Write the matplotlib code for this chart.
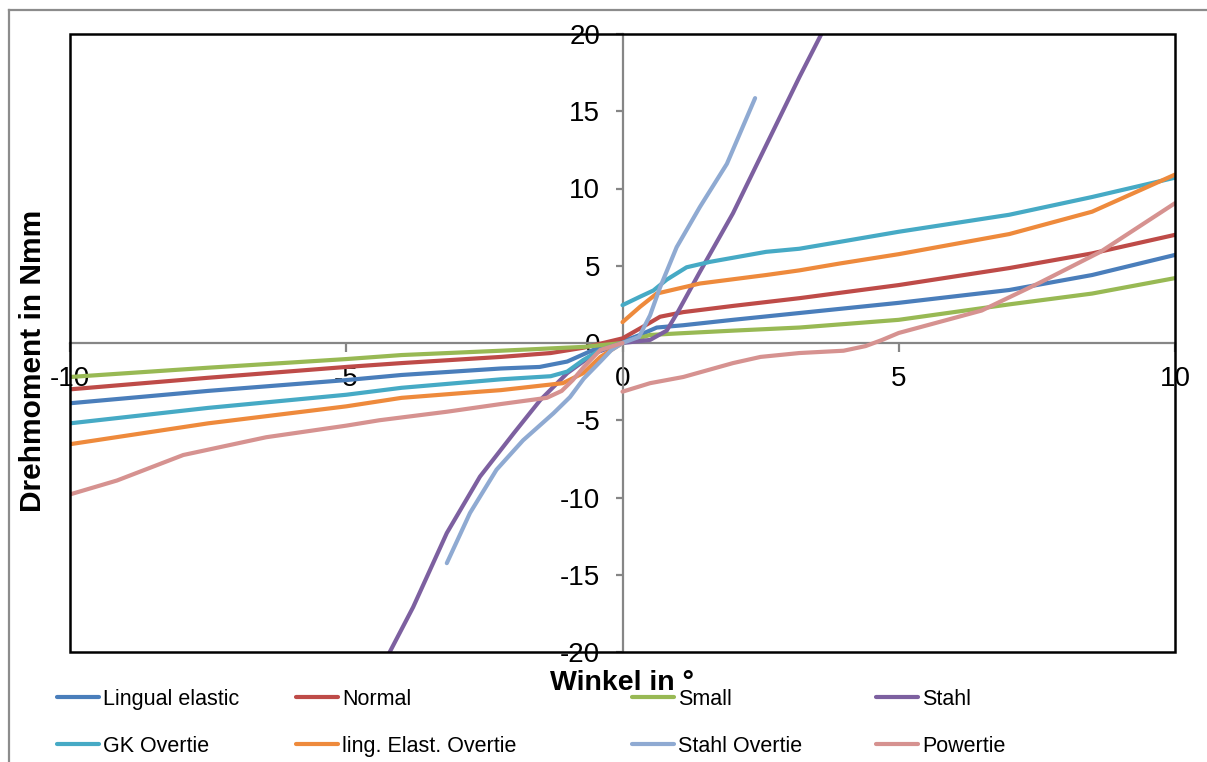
import numpy as np
import matplotlib
matplotlib.use("Agg")
import matplotlib.pyplot as plt
from matplotlib.patches import Rectangle
from matplotlib.lines import Line2D

plt.rcParams['font.family'] = ['Liberation Sans', 'DejaVu Sans']
plt.rcParams['axes.unicode_minus'] = False

nan = np.nan

# torque curves, angle in degrees -> torque in Nmm
lingual_x = [-10, -7.5, -5, -4, -2.2, -1.5, -1.0, -0.53, 0, 0.3, 0.62, 1.1, 2.0, 3.2, 5, 7, 8.5, 10]
lingual_y = [-3.9, -3.1, -2.4, -2.07, -1.65, -1.55, -1.2, -0.45, 0.1, 0.5, 1.0, 1.15, 1.5, 1.94, 2.6, 3.43, 4.4, 5.7]

normal_x = [-10, -7.5, -5, -4, -2.2, -1.3, -0.7, 0, 0.37, 0.68, 1.1, 2.0, 3.2, 3.94, 5, 7, 8.5, 10]
normal_y = [-3.0, -2.25, -1.55, -1.3, -0.9, -0.65, -0.3, 0.3, 1.05, 1.7, 2.0, 2.4, 2.9, 3.25, 3.75, 4.85, 5.8, 7.0]

small_x = [-10, -7.5, -5, -4, -2.2, -0.7, 0, 0.5, 1.0, 2.0, 3.2, 5, 7, 8.5, 10]
small_y = [-2.2, -1.6, -1.04, -0.78, -0.5, -0.25, 0, 0.52, 0.62, 0.8, 1.0, 1.5, 2.5, 3.2, 4.2]

stahl_x = [-4.3, -3.79, -3.18, -2.58, -1.97, -1.49, -1.0, -0.5, 0, 0.5, 0.8, 1.0, 1.4, 2.0, 2.6, 3.2, 3.7]
stahl_y = [-20.6, -17.1, -12.3, -8.65, -5.85, -3.7, -1.95, -0.65, 0, 0.2, 0.8, 2.0, 4.6, 8.4, 12.8, 17.2, 20.7]

gk_x = [-10, -7.5, -5, -4, -2.2, -1.3, -1.0, -0.71, -0.4, 0, nan,
        0, 0.32, 0.56, 0.8, 1.16, 1.58, 2.6, 3.2, 3.94, 5, 7, 8.5, 10]
gk_y = [-5.2, -4.2, -3.35, -2.9, -2.35, -2.15, -1.85, -1.1, -0.45, 0, nan,
        2.45, 3.0, 3.4, 4.1, 4.9, 5.25, 5.9, 6.1, 6.55, 7.2, 8.3, 9.45, 10.7]

ling_ov_x = [-10, -7.5, -5, -4, -2.58, -2.2, -1.08, -0.71, -0.4, 0, nan,
             0, 0.32, 0.62, 1.4, 2.6, 3.2, 3.94, 5, 7, 8.5, 10]
ling_ov_y = [-6.55, -5.2, -4.1, -3.55, -3.15, -3.05, -2.6, -1.95, -0.9, 0, nan,
             1.35, 2.35, 3.2, 3.85, 4.4, 4.7, 5.15, 5.75, 7.05, 8.5, 10.9]

stahl_ov_x = [-3.18, -2.76, -2.28, -1.8, -1.25, -0.95, -0.7, -0.4, -0.2, 0, 0.3, 0.5, 0.68, 0.98, 1.4, 1.89, 2.4]
stahl_ov_y = [-14.25, -11.0, -8.2, -6.3, -4.55, -3.5, -2.3, -1.2, -0.45, 0, 0.4, 1.8, 3.6, 6.2, 8.8, 11.6, 15.85]

powertie_x = [-10, -9.15, -7.95, -6.45, -5, -4.4, -3.18, -2.2, -1.37, -1.1, -0.9, -0.7, -0.4, 0, nan,
              0, 0.5, 1.1, 2.0, 2.5, 3.2, 4.0, 4.4, 4.7, 5.0, 6.5, 7.55, 8.65, 10]
powertie_y = [-9.8, -8.9, -7.25, -6.1, -5.35, -5.0, -4.45, -3.95, -3.55, -3.1, -2.4, -1.55, -0.45, 0, nan,
              -3.15, -2.6, -2.2, -1.3, -0.9, -0.65, -0.5, -0.2, 0.2, 0.65, 2.1, 3.9, 5.9, 9.05]

series = [
    ("Lingual elastic", lingual_x, lingual_y, '#4A7EBB'),
    ("Normal", normal_x, normal_y, '#BE4B48'),
    ("Small", small_x, small_y, '#98B954'),
    ("Stahl", stahl_x, stahl_y, '#7D60A0'),
    ("GK Overtie", gk_x, gk_y, '#46AAC5'),
    ("ling. Elast. Overtie", ling_ov_x, ling_ov_y, '#EE8A3C'),
    ("Stahl Overtie", stahl_ov_x, stahl_ov_y, '#8FAAD2'),
    ("Powertie", powertie_x, powertie_y, '#D69290'),
]

xticks = [-10, -5, 0, 5, 10]
yticks = [-20, -15, -10, -5, 0, 5, 10, 15, 20]

W, H = 1207, 762
fig = plt.figure(figsize=(W / 100, H / 100), dpi=100)
ax = fig.add_axes([70 / W, 110 / H, 1105 / W, 618 / H])

lines = []
for name, xs, ys, col in series:
    ln, = ax.plot(xs, ys, color=col, lw=3, label=name, zorder=3,
                  solid_capstyle='round', solid_joinstyle='round')
    lines.append(ln)

ax.set_xlim(-10, 10)
ax.set_ylim(-20, 20)
ax.set_xticks(xticks)
ax.set_yticks(yticks)

axcol = '#868686'
for s in ['top', 'right']:
    ax.spines[s].set_visible(False)
ax.spines['left'].set_position(('data', 0))
ax.spines['bottom'].set_position(('data', 0))
for s in ['left', 'bottom']:
    ax.spines[s].set_color(axcol)
    ax.spines[s].set_linewidth(1.6)
ax.tick_params(axis='x', direction='out', length=6.5, width=1.6, color=axcol,
               labelsize=20, pad=10)
ax.tick_params(axis='y', direction='out', length=5, width=1.6, color=axcol,
               labelsize=20, pad=11)

# black frame round the plot area
ax.add_patch(Rectangle((0, 0), 1, 1, transform=ax.transAxes, fill=False,
                       ec='black', lw=1.8, clip_on=False, zorder=5))

fig.text(622 / W, 1 - 683 / H, "Winkel in °", ha='center', va='center',
         fontsize=20.5, fontweight='bold')
fig.text(33 / W, 1 - 361 / H, "Drehmoment in Nmm", ha='center', va='center',
         rotation=90, fontsize=21.5, fontweight='bold')

# outer chart border, left and top edges only
bcol = '#8C8C8C'
fig.add_artist(Line2D([9 / W, 9 / W], [0, 1 - 10 / H], color=bcol, lw=1.6,
                      transform=fig.transFigure))
fig.add_artist(Line2D([9 / W, 1], [1 - 10 / H, 1 - 10 / H], color=bcol, lw=1.6,
                      transform=fig.transFigure))

# legend: four columns of two entries each
col_x = [57, 296, 632, 876]
for k, cx in enumerate(col_x):
    fig.legend([lines[k], lines[k + 4]], [series[k][0], series[k + 4][0]],
               loc='upper left', bbox_to_anchor=(cx / W, 1 - 689 / H),
               bbox_transform=fig.transFigure, frameon=False,
               fontsize=15.5, handlelength=1.95, handletextpad=0.2,
               borderpad=0, borderaxespad=0, labelspacing=1.2)

fig.savefig("out.png", dpi=100)
